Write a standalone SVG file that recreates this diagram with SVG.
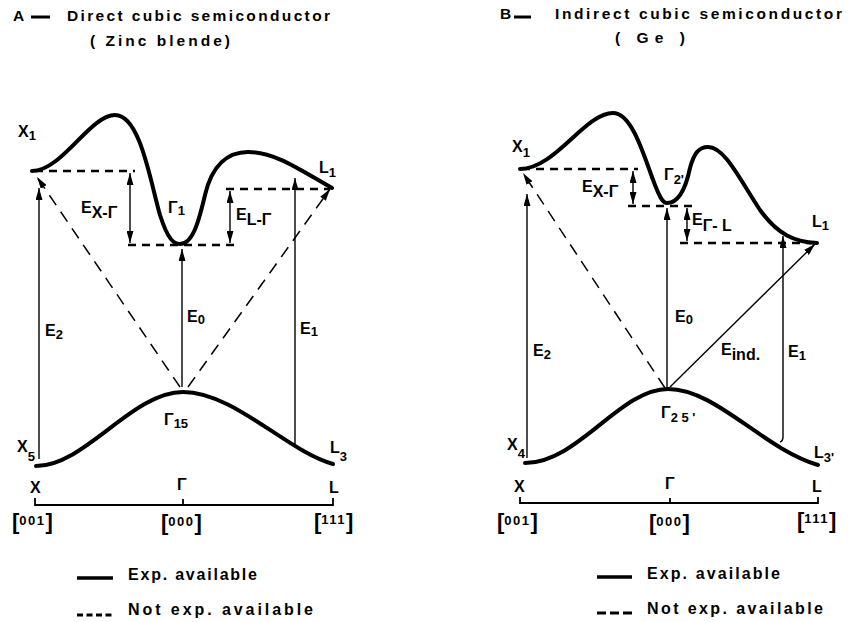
<svg xmlns="http://www.w3.org/2000/svg" width="850" height="622" viewBox="0 0 850 622">
<defs>
<style>
text{font-family:"Liberation Sans",Arial,sans-serif;font-weight:bold;fill:#000;}
.t{font-size:15.5px;}
.lb{font-size:16px;}
.sb{font-size:13px;}
.band{fill:none;stroke:#000;stroke-width:4;stroke-linecap:round;}
.arr{fill:none;stroke:#000;stroke-width:1.4;marker-end:url(#ah);}
.darr{fill:none;stroke:#000;stroke-width:1.4;marker-end:url(#ah);marker-start:url(#ah);}
.hd{fill:none;stroke:#000;stroke-width:2.6;stroke-dasharray:8 6;}
.dd{fill:none;stroke:#000;stroke-width:1.5;stroke-dasharray:12 8;marker-end:url(#ah);}
.ax{fill:none;stroke:#000;stroke-width:1.8;}
.br{font-size:22px;}
.dg{font-size:13px;letter-spacing:1.5px;}
</style>
<marker id="ah" viewBox="0 0 12 7" refX="12" refY="3.5" markerWidth="12" markerHeight="7" markerUnits="userSpaceOnUse" orient="auto-start-reverse">
<path d="M0,0 L12,3.5 L0,7 z" fill="#000"/>
</marker>
</defs>
<rect width="850" height="622" fill="#fff"/>

<!-- Titles -->
<g id="titleA">
<text class="t" x="13" y="21">A</text>
<line x1="31" y1="17" x2="50" y2="17" stroke="#000" stroke-width="3"/>
<text class="t" x="67" y="21" textLength="263" lengthAdjust="spacing">Direct cubic semiconductor</text>
<text class="t" x="90" y="46" textLength="140" lengthAdjust="spacing">( Zinc  blende)</text>
</g>
<g id="titleB">
<text class="t" x="500" y="19">B</text>
<line x1="514" y1="17" x2="531" y2="17" stroke="#000" stroke-width="3"/>
<text class="t" x="555" y="19" textLength="287" lengthAdjust="spacing">Indirect cubic semiconductor</text>
<text class="t" x="615" y="43" textLength="70" lengthAdjust="spacing">( Ge )</text>
</g>

<!-- Panel A bands -->
<g id="A-conduction">
<path class="band" d="M32,171 C62,171 90,115 115,115 C140,115 150,180 160,215 C168,240 174,244 180,244 C192,244 198,225 205,195 C212,165 228,152 248,152 C275,152 300,170 332,188"/>
</g>
<g id="A-valence">
<path class="band" d="M36,466 C85,466 132,392 183,392 C234,392 288,452 333,464"/>
</g>

<!-- Panel B bands -->
<g id="B-conduction">
<path class="band" d="M520,169 C555,169 585,113 613,113 C633,113 645,160 655,185 C660,198 663,203 667,203 C679,203 686,187 690,168 C694,153 699,147 708,147 C725,147 740,180 760,210 C778,235 795,242 817,243"/>
</g>
<g id="B-valence">
<path class="band" d="M525,463 C578,463 620,389 668,389 C716,389 762,448 818,465"/>
</g>

<!-- Connectors -->
<g id="connectors">
<!-- Panel A -->
<line class="hd" x1="35" y1="171" x2="135" y2="171"/>
<line class="hd" x1="128" y1="245" x2="235" y2="245"/>
<line class="hd" x1="226" y1="189" x2="330" y2="189"/>
<line class="darr" x1="130" y1="173" x2="130" y2="243"/>
<line class="darr" x1="230" y1="191" x2="230" y2="243"/>
<line class="arr" x1="39" y1="459" x2="39" y2="188"/>
<line class="arr" x1="182" y1="387" x2="182" y2="249"/>
<line class="arr" x1="295" y1="446" x2="295" y2="178"/>
<line class="dd" x1="180" y1="387" x2="37" y2="177"/>
<line class="dd" x1="188" y1="387" x2="330" y2="189"/>
<!-- Panel B -->
<line class="hd" x1="522" y1="169" x2="638" y2="169"/>
<line class="hd" x1="628" y1="206" x2="692" y2="206"/>
<line class="hd" x1="680" y1="243" x2="815" y2="243"/>
<line class="darr" x1="633" y1="171" x2="633" y2="204"/>
<line class="darr" x1="687" y1="208" x2="687" y2="241"/>
<line class="arr" x1="527" y1="458" x2="527" y2="194"/>
<line class="arr" x1="667" y1="388" x2="667" y2="208"/>
<path class="arr" d="M780,442 Q783,441 783,437 L783,236"/>
<line class="arr" x1="670" y1="387" x2="815" y2="244"/>
<line class="dd" x1="665" y1="388" x2="523" y2="173"/>
</g>

<!-- Labels panel A -->
<g id="A-labels">
<text class="lb" x="18" y="137">X<tspan class="sb" dy="3">1</tspan></text>
<text class="lb" x="319" y="173">L<tspan class="sb" dy="4">1</tspan></text>
<text class="lb" x="168" y="213">Γ<tspan class="sb" dy="2">1</tspan></text>
<text class="lb" x="81" y="213">E<tspan dy="5">X-Γ</tspan></text>
<text class="lb" x="236" y="220">E<tspan dy="5">L-Γ</tspan></text>
<text class="lb" x="45" y="336">E<tspan class="sb" dy="3">2</tspan></text>
<text class="lb" x="187" y="322">E<tspan class="sb" dy="2">0</tspan></text>
<text class="lb" x="300" y="334">E<tspan class="sb" dy="2">1</tspan></text>
<text class="lb" x="164" y="425">Γ<tspan class="sb" dy="3">15</tspan></text>
<text class="lb" x="17" y="452">X<tspan class="sb" dy="9">5</tspan></text>
<text class="lb" x="330" y="453">L<tspan class="sb" dy="8">3</tspan></text>
</g>

<!-- Labels panel B -->
<g id="B-labels">
<text class="lb" x="512" y="152">X<tspan class="sb" dy="5">1</tspan></text>
<text class="lb" x="582" y="192">E<tspan dy="5">X-Γ</tspan></text>
<text class="lb" x="664" y="180">Γ<tspan class="sb" dy="4">2'</tspan></text>
<text class="lb" x="692" y="225">E<tspan dy="6">Γ- L</tspan></text>
<text class="lb" x="812" y="227">L<tspan class="sb" dy="3">1</tspan></text>
<text class="lb" x="533" y="356">E<tspan class="sb" dy="3">2</tspan></text>
<text class="lb" x="675" y="322">E<tspan class="sb" dy="2">0</tspan></text>
<text class="lb" x="721" y="355">E<tspan dy="5">ind.</tspan></text>
<text class="lb" x="788" y="357">E<tspan class="sb" dy="3">1</tspan></text>
<text class="lb" x="661" y="418">Γ<tspan class="sb" dy="4">2 5 '</tspan></text>
<text class="lb" x="507" y="450">X<tspan class="sb" dy="8">4</tspan></text>
<text class="lb" x="814" y="458">L<tspan class="sb" dy="4">3'</tspan></text>
</g>

<!-- Axis A -->
<g id="A-axis">
<path class="ax" d="M35,498 L35,505 L333,505 L333,498 M183,505 L183,499"/>
<text class="lb" x="30" y="493">X</text>
<text class="lb" x="177" y="490">Γ</text>
<text class="lb" x="329" y="493">L</text>
<text x="12" y="529"><tspan class="br">[</tspan><tspan class="dg" dy="-4">001</tspan><tspan class="br" dy="4">]</tspan></text>
<text x="161" y="530"><tspan class="br">[</tspan><tspan class="dg" dy="-4">000</tspan><tspan class="br" dy="4">]</tspan></text>
<text x="314" y="529"><tspan class="br">[</tspan><tspan class="dg" dy="-5">111</tspan><tspan class="br" dy="5">]</tspan></text>
</g>

<!-- Axis B -->
<g id="B-axis">
<path class="ax" d="M520,497 L520,503 L818,503 L818,497 M670,503 L670,498"/>
<text class="lb" x="514" y="492">X</text>
<text class="lb" x="665" y="489">Γ</text>
<text class="lb" x="812" y="492">L</text>
<text x="497" y="529"><tspan class="br">[</tspan><tspan class="dg" dy="-4">001</tspan><tspan class="br" dy="4">]</tspan></text>
<text x="649" y="530"><tspan class="br">[</tspan><tspan class="dg" dy="-4">000</tspan><tspan class="br" dy="4">]</tspan></text>
<text x="797" y="528"><tspan class="br">[</tspan><tspan class="dg" dy="-5">111</tspan><tspan class="br" dy="5">]</tspan></text>
</g>

<!-- Legends -->
<g id="A-legend">
<line x1="77" y1="578" x2="113" y2="578" stroke="#000" stroke-width="3.5"/>
<text class="lb" x="128" y="580" textLength="129" lengthAdjust="spacing">Exp. available</text>
<line x1="77" y1="615" x2="112" y2="615" stroke="#000" stroke-width="3" stroke-dasharray="6 3.5"/>
<text class="lb" x="128" y="615" textLength="185" lengthAdjust="spacing">Not exp. available</text>
</g>
<g id="B-legend">
<line x1="597" y1="577" x2="632" y2="577" stroke="#000" stroke-width="3.5"/>
<text class="lb" x="647" y="579" textLength="133" lengthAdjust="spacing">Exp. available</text>
<line x1="597" y1="613" x2="632" y2="613" stroke="#000" stroke-width="3" stroke-dasharray="9 4"/>
<text class="lb" x="647" y="614" textLength="176" lengthAdjust="spacing">Not exp. available</text>
</g>
</svg>
